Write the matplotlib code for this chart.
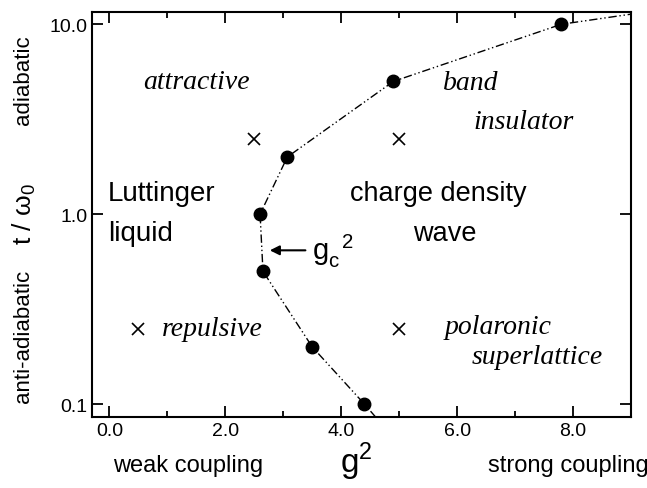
import matplotlib
matplotlib.use("Agg")
import matplotlib.pyplot as plt
from matplotlib.ticker import FixedLocator, NullLocator, FixedFormatter

# data
g2_points = [4.4, 3.5, 2.65, 2.6, 3.07, 4.9, 7.8]
t_points = [0.1, 0.2, 0.5, 1.0, 2.0, 5.0, 10.0]
# line continues to the plot edges
g2_line = [4.6, 4.4, 3.5, 2.65, 2.6, 3.07, 4.9, 7.8, 9.0]
t_line = [0.085, 0.1, 0.2, 0.5, 1.0, 2.0, 5.0, 10.0, 11.3]
g2_cross = [2.5, 5.0, 0.5, 5.0]
t_cross = [2.5, 2.5, 0.25, 0.25]
xticks = [0.0, 2.0, 4.0, 6.0, 8.0]
xticklabels = ["0.0", "2.0", "4.0", "6.0", "8.0"]
xminor = [1.0, 3.0, 5.0, 7.0]
yticks = [0.1, 1.0, 10.0]
yticklabels = ["0.1", "1.0", "10.0"]

sans = ["Liberation Sans", "DejaVu Sans"]
serif = ["Liberation Serif", "DejaVu Serif"]
plt.rcParams["font.family"] = sans

fig = plt.figure(figsize=(6.47, 4.89), dpi=100)
ax = fig.add_axes([92/647, 1-418/489, (631-92)/647, (418-13)/489])
ax.set_yscale("log")
ax.set_xlim(-0.3, 9.0)
ax.set_ylim(0.0855, 11.6)

ax.plot(g2_line, t_line, color="black", lw=1.0, linestyle=(0, (6, 2, 1, 2, 1, 2)), zorder=2)
ax.plot(g2_points, t_points, "o", color="black", ms=9, zorder=3)
ax.plot(g2_cross, t_cross, "x", color="black", ms=8, mew=1.2, zorder=3)

ax.xaxis.set_major_locator(FixedLocator(xticks))
ax.xaxis.set_major_formatter(FixedFormatter(xticklabels))
ax.xaxis.set_minor_locator(FixedLocator(xminor))
ax.yaxis.set_major_locator(FixedLocator(yticks))
ax.yaxis.set_major_formatter(FixedFormatter(yticklabels))
ax.yaxis.set_minor_locator(NullLocator())
ax.tick_params(which="both", direction="in", top=True, right=True, width=1.3, labelsize=14)
ax.tick_params(which="major", length=8)
ax.tick_params(which="minor", length=4)
for s in ax.spines.values():
    s.set_linewidth(1.5)

# region labels
it = dict(family=serif, style="italic", fontsize=20, ha="center", va="center")
ax.text(1.51, 5.0, "attractive", **it)
ax.text(6.24, 4.95, "band", **it)
ax.text(7.14, 3.09, "insulator", **it)
ax.text(1.77, 0.25, "repulsive", **it)
ax.text(6.71, 0.257, "polaronic", **it)
ax.text(7.38, 0.177, "superlattice", **it)
ax.text(-0.03, 1.3, "Luttinger", fontsize=20, ha="left", va="center")
ax.text(-0.03, 0.8, "liquid", fontsize=20, ha="left", va="center")
ax.text(5.68, 1.3, "charge density", fontsize=19.5, ha="center", va="center")
ax.text(5.79, 0.8, "wave", fontsize=19.5, ha="center", va="center")

ax.annotate("", xy=(2.72, 0.645), xytext=(3.43, 0.645),
            arrowprops=dict(arrowstyle="-|>", color="black", lw=1.5, mutation_scale=14))
ax.text(3.5, 0.645, r"g$_\mathregular{c}^{\ \ \mathregular{2}}$", fontsize=21, ha="left", va="center")

# axis labels
fig.text(24/647, 1-214/489, r"t / $\mathregular{\omega_0}$", fontsize=19, rotation=90, ha="center", va="center")
fig.text(24/647, 1-80/489, "adiabatic", fontsize=16, rotation=90, ha="center", va="center")
fig.text(24/647, 1-336/489, "anti-adiabatic", fontsize=16, rotation=90, ha="center", va="center")
fig.text(356/647, 1-462/489, r"g$^\mathregular{2}$", fontsize=24, ha="center", va="center")
fig.text(188/647, 1-466/489, "weak coupling", fontsize=17, ha="center", va="center")
fig.text(568/647, 1-466/489, "strong coupling", fontsize=17, ha="center", va="center")

fig.savefig("out.png", dpi=100)
